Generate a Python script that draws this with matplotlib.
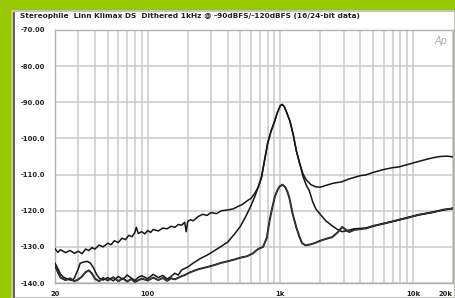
import matplotlib
matplotlib.use("Agg")
import matplotlib.pyplot as plt
from matplotlib.patches import Rectangle
from matplotlib.lines import Line2D

# 16-bit data, -90dBFS
freq_a = [20, 21, 22, 24, 26, 28, 30, 32, 34, 36, 38, 40, 43, 46, 50, 53, 56, 60,
          64, 68, 72, 76, 80, 82, 85, 90, 95, 100, 105, 110, 120, 130, 140, 150,
          160, 170, 180, 190, 195, 200, 210, 220, 240, 260, 280, 300, 330, 360,
          400, 440, 480, 520, 560, 600, 640, 680, 720, 760, 800, 850, 900, 950,
          1000, 1030, 1070, 1120, 1180, 1250, 1320, 1400, 1480, 1570, 1700, 1850,
          2000, 2200, 2500, 2900, 3300, 4000, 4400, 5000, 6000, 7000, 7800, 10000,
          12000, 13900, 16000, 18000, 20000]
level_a = [-130.5, -131.5, -130.8, -131.6, -131.0, -131.8, -131.2, -131.9, -130.6,
           -131.0, -130.2, -130.6, -129.5, -130.0, -129.0, -129.4, -128.3, -128.8,
           -127.6, -128.0, -126.8, -127.2, -126.0, -124.6, -126.3, -125.8, -126.4,
           -125.5, -126.0, -125.2, -125.6, -124.8, -125.0, -124.3, -124.6, -123.8,
           -124.0, -123.2, -125.8, -123.0, -122.5, -122.8, -121.6, -121.0, -121.3,
           -120.5, -120.8, -120.0, -119.8, -119.5, -118.8, -118.2, -117.3, -116.6,
           -115.2, -113.5, -110.8, -106.0, -101.5, -98.0, -95.5, -92.8, -90.9,
           -90.6, -91.2, -93.0, -95.2, -99.0, -103.5, -107.0, -109.8, -111.5,
           -112.8, -113.4, -113.5, -113.0, -112.4, -112.0, -111.2, -110.3, -110.1,
           -109.4, -108.6, -108.1, -107.9, -106.8, -106.0, -105.4, -105.0, -104.9,
           -105.1]

# 24-bit data, -90dBFS
freq_b = [20, 21, 22, 23, 25, 27, 28, 30, 31, 33, 35, 37, 39, 41, 43, 46, 50, 55,
          60, 65, 70, 75, 80, 85, 90, 100, 110, 120, 130, 140, 150, 160, 170, 180,
          200, 220, 250, 280, 320, 360, 400, 450, 500, 550, 600, 640, 680, 720,
          760, 800, 850, 900, 950, 1000, 1030, 1070, 1120, 1180, 1250, 1320, 1400,
          1480, 1570, 1653, 1750, 1850, 1965, 2200, 2460, 2700, 2925, 3200, 3600,
          4400, 5000, 6000, 7800, 9000, 11000, 13900, 17000, 20000]
level_b = [-134.5, -136.0, -137.5, -138.3, -139.0, -139.3, -138.6, -136.0, -134.5,
           -134.2, -134.0, -134.5, -135.8, -137.5, -138.6, -139.2, -138.5, -139.4,
           -138.2, -139.0, -137.8, -138.6, -139.3, -138.4, -138.0, -138.8, -137.6,
           -138.5, -137.9, -138.9, -138.2, -137.3, -137.8, -136.4, -135.6, -134.5,
           -133.2, -132.3, -131.0, -129.8, -128.7, -126.5, -124.3, -121.5, -118.6,
           -116.2, -113.5, -110.8, -106.0, -101.5, -98.0, -95.5, -92.8, -90.9,
           -90.6, -91.2, -93.0, -95.2, -99.0, -103.5, -107.0, -110.5, -113.0,
           -114.5, -117.5, -119.5, -120.7, -122.8, -124.2, -125.2, -125.8, -125.5,
           -125.0, -124.8, -124.3, -123.5, -122.6, -121.9, -121.2, -120.4, -119.8,
           -119.3]

# 24-bit data, -120dBFS
freq_c = [20, 21, 22, 24, 26, 28, 30, 32, 34, 36, 38, 40, 43, 46, 50, 55, 60, 65,
          70, 75, 80, 90, 100, 110, 120, 130, 140, 150, 160, 175, 190, 210, 240,
          280, 320, 360, 400, 450, 500, 560, 620, 680, 740, 790, 830, 870, 910,
          950, 985, 1036, 1090, 1130, 1170, 1230, 1315, 1400, 1460, 1550, 1650,
          1800, 2000, 2200, 2460, 2700, 2925, 3100, 3300, 3600, 4400, 5000, 6000,
          7800, 9000, 11000, 13900, 17000, 20000]
level_c = [-135.0, -137.0, -138.5, -139.2, -138.7, -139.5, -139.0, -138.2, -137.0,
           -136.5, -137.4, -138.8, -139.5, -138.6, -139.3, -138.4, -139.5, -138.7,
           -139.6, -138.9, -139.7, -138.8, -139.3, -138.5, -139.2, -138.6, -139.4,
           -138.7, -139.0, -138.3, -137.8, -137.0, -136.2, -135.6, -135.0, -134.4,
           -134.0, -133.5, -133.0, -132.6, -131.8, -130.6, -130.0, -127.5, -122.6,
           -119.0, -116.0, -114.3, -113.3, -112.8, -113.5, -114.8, -116.5, -120.5,
           -124.5, -127.5, -129.0, -129.6, -129.4, -129.0, -128.3, -127.8, -127.3,
           -126.0, -124.5, -125.2, -125.9, -125.3, -124.9, -124.2, -123.6, -122.5,
           -122.0, -121.1, -120.5, -119.7, -119.4]

title = "Stereophile  Linn Klimax DS  Dithered 1kHz @ -90dBFS/-120dBFS (16/24-bit data)"
y_ticks = [-70, -80, -90, -100, -110, -120, -130, -140]
y_labels = ["-70.00", "-80.00", "-90.00", "-100.0", "-110.0", "-120.0", "-130.0", "-140.0"]
x_ticks = [20, 100, 1000, 10000, 20000]
x_labels = ["20", "100", "1k", "10k", "20k"]
grid_freqs = [20, 30, 40, 50, 60, 70, 80, 90, 100, 200, 300, 400, 500, 600, 700, 800,
              900, 1000, 2000, 3000, 4000, 5000, 6000, 7000, 8000, 9000, 10000, 20000]

W, H = 455, 298
fig = plt.figure(figsize=(W / 100, H / 100), dpi=100)
fig.patch.set_facecolor("#97c800")

# white panel with border, kept behind the axes
fig.patches.append(Rectangle((12 / W, 0), (W - 12) / W, (H - 11) / H, transform=fig.transFigure,
                             facecolor="white", edgecolor="#c4c4b4", linewidth=1.5, zorder=-2))
fig.lines.append(Line2D([14.5 / W, 14.5 / W], [0, (H - 13) / H], transform=fig.transFigure,
                        color="#444444", linewidth=1.2, zorder=-1))

fig.text(20 / W, 1 - 16 / H, title, fontsize=5.3, fontweight="bold", color="#222222",
         ha="left", va="center", family="DejaVu Sans")

ax = fig.add_axes([55 / W, 15 / H, 398 / W, 253 / H])
ax.patch.set_alpha(0)
ax.set_xscale("log")
ax.set_xlim(20, 20000)
ax.set_ylim(-140, -70)

for f in grid_freqs:
    ax.axvline(f, color="#cacaca", linewidth=1.1, zorder=1)
for yv in y_ticks:
    ax.axhline(yv, color="#cacaca", linewidth=1.1, zorder=1)

ax.plot(freq_a, level_a, color="#151515", linewidth=1.1, zorder=3)
ax.plot(freq_b, level_b, color="#151515", linewidth=1.1, zorder=3)
ax.plot(freq_c, level_c, color="#151515", linewidth=1.4, zorder=3)
ax.plot(freq_c, level_c, color="#bbbbbb", linewidth=0.3, linestyle=(0, (1, 1)), zorder=4)

ax.set_yticks(y_ticks)
ax.set_yticklabels(y_labels)
ax.set_xticks(x_ticks)
ax.set_xticklabels(x_labels)
ax.minorticks_off()
ax.tick_params(axis="both", length=0, labelsize=4.9, colors="#222222")
ax.tick_params(axis="y", pad=7)
ax.tick_params(axis="x", pad=6)
for lab in ax.get_xticklabels() + ax.get_yticklabels():
    lab.set_fontweight("bold")
ax.get_xticklabels()[-1].set_ha("right")
for sp in ax.spines.values():
    sp.set_color("#b0b0b0")
    sp.set_linewidth(1.0)

ax.text(0.985, 0.955, "Ap", transform=ax.transAxes, fontsize=7, style="italic",
        color="#b0b0b0", ha="right", va="center")

fig.savefig("out.png", dpi=100, facecolor=fig.get_facecolor())
